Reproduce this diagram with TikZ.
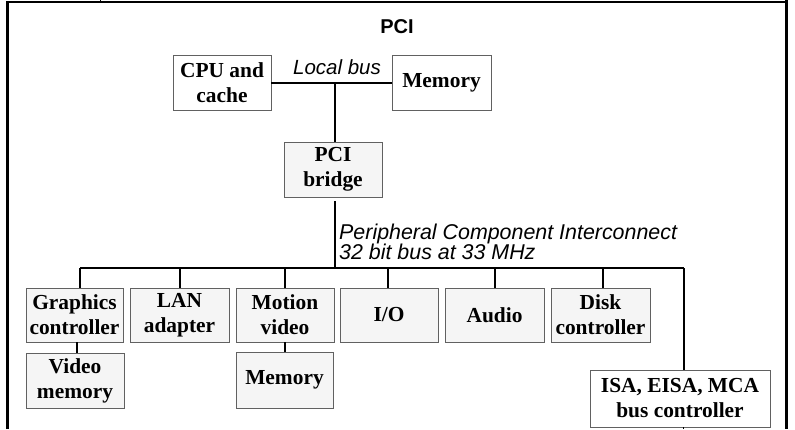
\documentclass[tikz,border=0pt]{standalone}
\usepackage{fontspec}
\setmainfont{Liberation Serif}
\setsansfont{Liberation Sans}
\begin{document}
\begin{tikzpicture}[x=1pt,y=-1pt,
  unit/.style={draw=black!62, line width=0.9pt, inner sep=0pt, align=center,
    font=\bfseries\fontsize{21.4}{25}\selectfont, fill=#1},
  unit/.default={black!4},
  thinlink/.style={line width=1.1pt},
  buslink/.style={line width=2.6pt},
  frame/.style={line width=2.2pt},
  lbl/.style={font=\sffamily\itshape\fontsize{21.4}{20}\selectfont, inner sep=0pt}]
\useasboundingbox (0,0) rectangle (795,429);

% enclosing cell
\draw[frame] (7.5,429) -- (7.5,2) -- (788,2);
\draw[line width=3pt] (786.5,0) -- (786.5,429);
\draw[line width=1pt] (100,0) -- (100,2);

\node[font=\sffamily\bfseries\fontsize{20}{24}\selectfont, inner sep=0pt] (title) at (397,27) {PCI};

% host side
\node[unit=white, minimum width=98pt, minimum height=55pt] (cpu) at (222,82.5) {CPU and\\cache};
\node[unit=white, minimum width=99pt, minimum height=55pt] (mem) at (441.5,82.5) {Memory};
\node[unit, minimum width=98pt, minimum height=55pt] (bridge) at (333,169.5) {PCI\\bridge};
\node[font=\sffamily\itshape\fontsize{20.5}{20.5}\selectfont, inner sep=0pt] (lbus) at (337,67) {Local bus};
\coordinate (tap) at (335,83);
\draw[thinlink] (cpu.east |- tap) -- (mem.west |- tap);
\draw[thinlink] (tap) -- (tap |- bridge.north);

% PCI bus
\node[lbl, anchor=north west, align=left] (pcilbl) at (339,224) {Peripheral Component Interconnect\\32 bit bus at 33 MHz};
\coordinate (bl) at (80,268);
\coordinate (br) at (684,268);
\coordinate (bt) at (335,268);
\draw[buslink] (bl) -- (br);
\draw[buslink] (335,201) -- (bt);

% adapters
\node[unit, minimum width=97pt, minimum height=54pt] (gfx) at (74.5,315) {Graphics\\controller};
\node[unit, minimum width=99pt, minimum height=54pt] (lan) at (179.5,315) {LAN\\adapter};
\node[unit, minimum width=98pt, minimum height=54pt] (mv) at (285,315) {Motion\\video};
\node[unit, minimum width=98pt, minimum height=54pt] (io) at (389,315) {I/O};
\node[unit, minimum width=99pt, minimum height=54pt] (audio) at (494.5,315) {Audio};
\node[unit, minimum width=99pt, minimum height=54pt] (disk) at (600.5,315) {Disk\\controller};
\node[unit, minimum width=98pt, minimum height=55pt] (vmem) at (75,380.5) {Video\\memory};
\node[unit, minimum width=97pt, minimum height=56pt] (mmem) at (284.5,380) {Memory};
\node[unit=white, minimum width=180pt, minimum height=57pt] (isa) at (680,398.5) {ISA, EISA, MCA\\bus controller};

\draw[buslink] (bl) -- (bl |- gfx.north);
\draw[buslink] (180,268) -- (180,288);
\draw[buslink] (285,268) -- (285,288);
\draw[buslink] (388,268) -- (388,288);
\draw[buslink] (495,268) -- (495,288);
\draw[buslink] (603,268) -- (603,288);
\draw[buslink] (br) -- (br |- isa.north);

\draw[thinlink] (77,342) -- (77,353);
\draw[thinlink] (285,342) -- (285,352);
\draw[line width=0.8pt] (683,427) -- (683,429);
\end{tikzpicture}
\end{document}
